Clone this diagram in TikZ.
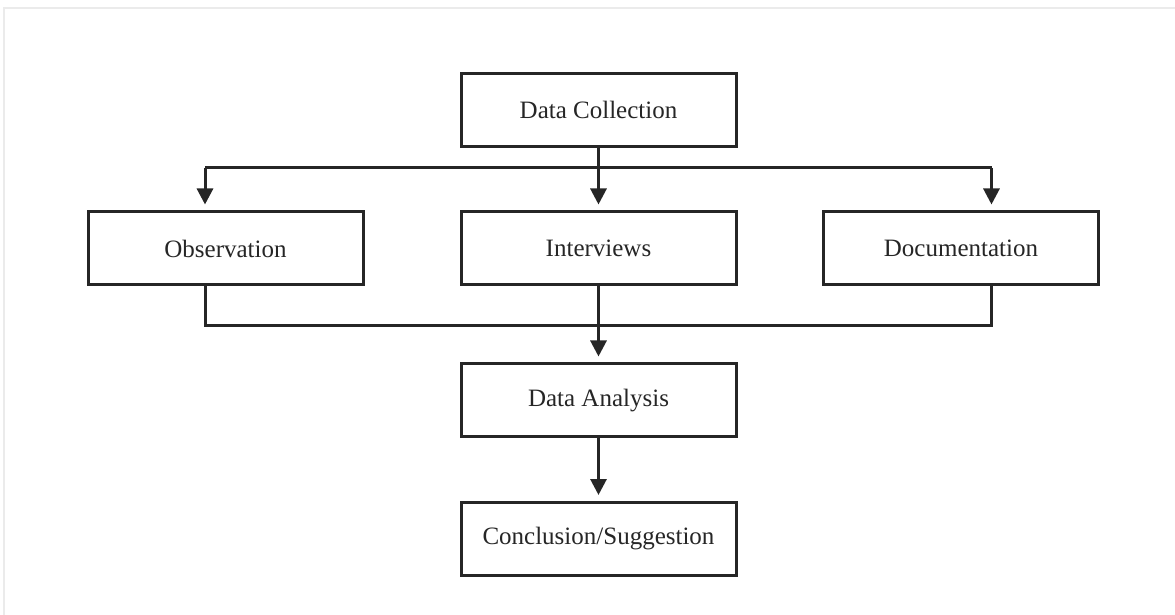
\documentclass[tikz,border=0pt]{standalone}
\usepackage{fontspec}
\setmainfont{Liberation Serif}
\usetikzlibrary{arrows.meta}
\tikzset{
	stage/.style={draw=black!85, line width=1.5pt, fill=white, minimum width=137.5pt, minimum height=36.5pt, text=black!85, font=\fontsize{12.5}{15}\selectfont},
	link/.style={draw=black!85, line width=1.5pt},
	flow/.style={link, -{Triangle[length=8pt, width=8pt]}, shorten >=3pt}
}
\begin{document}
\begin{tikzpicture}[x=0.5pt, y=-0.5pt]
		\useasboundingbox (0,0) rectangle (1175,615);
		\draw[black!8, line width=1pt] (4,615) -- (4,8) -- (1175,8);
		\node[stage] (collect) at (598.5,110) {Data Collection};
		\node[stage] (obs) at (225.5,248.5) {Observation};
		\node[stage] (intv) at (598.5,248.5) {Interviews};
		\node[stage] (docu) at (961,248.5) {Documentation};
		\node[stage] (anal) at (598.5,400.5) {Data Analysis};
		\node[stage] (concl) at (598.5,539) {Conclusion/Suggestion};
		\coordinate (upleft) at (205,168);
		\coordinate (upright) at (991.5,168);
		\coordinate (lowleft) at (205,325.5);
		\coordinate (lowright) at (991.5,325.5);
		\draw[link] (upleft) -- (upright);
		\draw[flow] (collect) -- (intv);
		\draw[flow] (upleft) -- (upleft |- obs.north);
		\draw[flow] (upright) -- (upright |- docu.north);
		\draw[link] (obs.south -| lowleft) -- (lowleft) -- (lowright) -- (docu.south -| lowright);
		\draw[flow] (intv) -- (anal);
		\draw[flow] (anal) -- (concl);
		\end{tikzpicture}
\end{document}
